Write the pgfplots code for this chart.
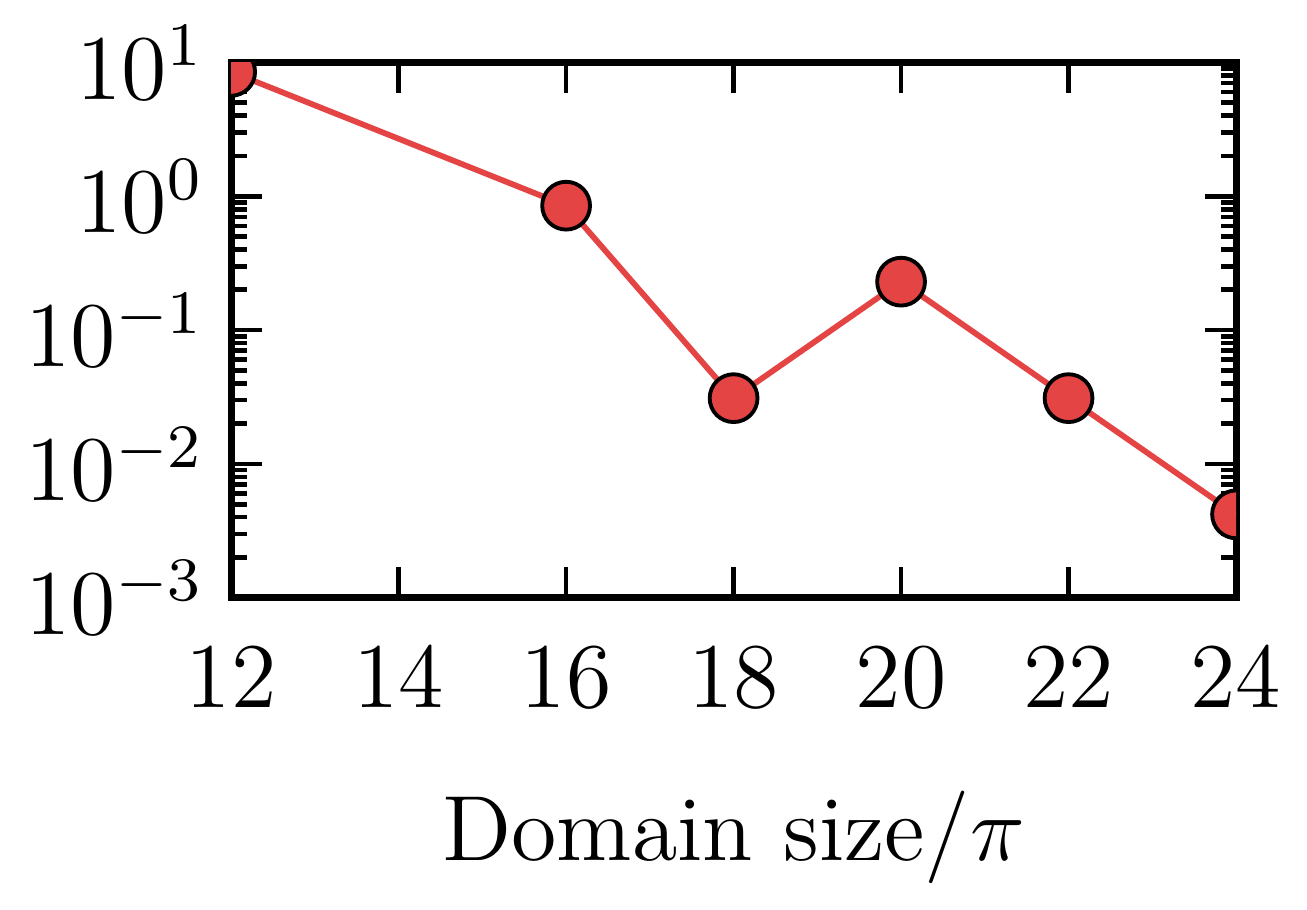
\documentclass[border=0pt]{standalone}
\usepackage{pgfplots}
\pgfplotsset{compat=1.18}
\definecolor{cred}{RGB}{229,68,68}
\begin{document}
\begin{tikzpicture}
\begin{axis}[scale only axis, width=4.58cm, height=2.44cm,
 ymode=log, xmin=12, xmax=24, ymin=1e-3, ymax=1e1,
 xtick={12,14,16,18,20,22,24},
 ytick={1e-3,1e-2,1e-1,1e0,1e1},
 tick align=inside, major tick length=0.14cm, minor tick length=0.07cm,
 axis line style={line width=0.9pt}, every tick/.style={black, line width=0.6pt},
 xlabel={Domain size$/\pi$},
 xlabel style={font=\large, yshift=-4pt},
 tick label style={font=\large},
 xticklabel style={yshift=-3pt},
 clip marker paths=true,
 ]
\addplot[cred, line width=0.75pt, mark=*, mark size=3.1pt,
 mark options={fill=cred, draw=black, line width=0.5pt}]
 coordinates {(12,8.5) (16,0.85) (18,0.031) (20,0.23) (22,0.031) (24,0.0042)};
\end{axis}
\end{tikzpicture}
\end{document}
